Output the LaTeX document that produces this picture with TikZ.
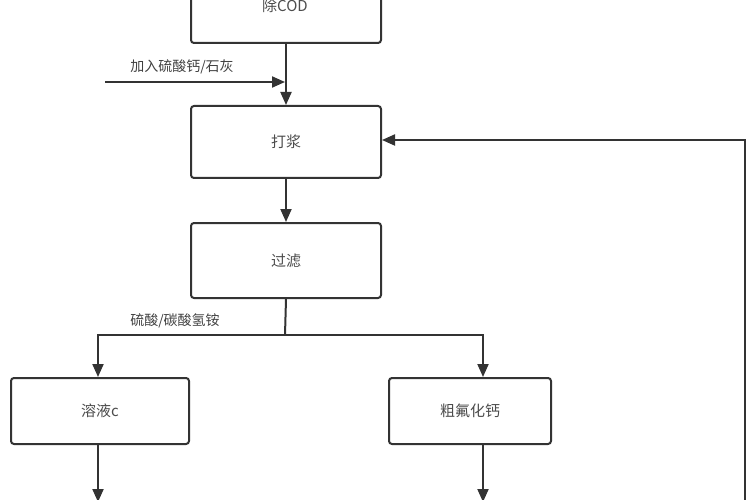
\documentclass[tikz,border=0pt]{standalone}
\usepackage{fontspec}
\newfontfamily\cjk{Noto Sans CJK SC}
\usetikzlibrary{arrows.meta}
\begin{document}
\begin{tikzpicture}[x=1pt,y=-1pt,
  box/.style={draw=black!80,line width=2pt,rounded corners=3pt,minimum width=190pt,minimum height=72pt,font=\cjk\fontsize{15}{18}\selectfont,text=black!70,anchor=north west},
  arr/.style={draw=black!80,line width=2pt,-{Triangle[length=13pt,width=11pt]}},
  lab/.style={font=\cjk\fontsize{14}{16}\selectfont,text=black!75}]
\useasboundingbox (0,0) rectangle (750,500);
\clip (0,0) rectangle (750,500);
\node[box] (b0) at (190,-30) {};
\node[text=black!70,font=\cjk\fontsize{15}{18}\selectfont] (t0) at (285,6) {除COD};
\node[box] (b1) at (190,105) {打浆};
\node[box,minimum height=75pt] (b2) at (190,222) {过滤};
\node[box,minimum width=178pt,minimum height=66pt] (b3) at (10,377) {溶液c};
\node[box,minimum width=162pt,minimum height=66pt] (b4) at (388,377) {粗氟化钙};
\coordinate (in) at (105,82);
\coordinate (j) at (285,82);
\coordinate (s) at (285,335);
\coordinate (sl) at (98,335);
\coordinate (sr) at (483,335);
\coordinate (e3) at (98,502);
\coordinate (e4) at (483,502);
\coordinate (rb) at (745,505);
\coordinate (rt) at (745,140);
\draw[arr] (b0.south) -- (b1.north);
\draw[arr] (in) -- (j);
\node[lab] (l1) at (182,67) {加入硫酸钙/石灰};
\draw[arr] (b1.south) -- (b2.north);
\draw[draw=black!80,line width=2pt] (b2.south) -- (s);
\draw[arr] (s) -- (sl) -- (sl |- b3.north);
\draw[arr] (s) -- (sr) -- (sr |- b4.north);
\node[lab] (l2) at (175,321) {硫酸/碳酸氢铵};
\draw[arr] (b3.south -| e3) -- (e3);
\draw[arr] (b4.south -| e4) -- (e4);
\draw[arr] (rb) -- (rt) -- (b1.east |- rt);
\end{tikzpicture}
\end{document}
